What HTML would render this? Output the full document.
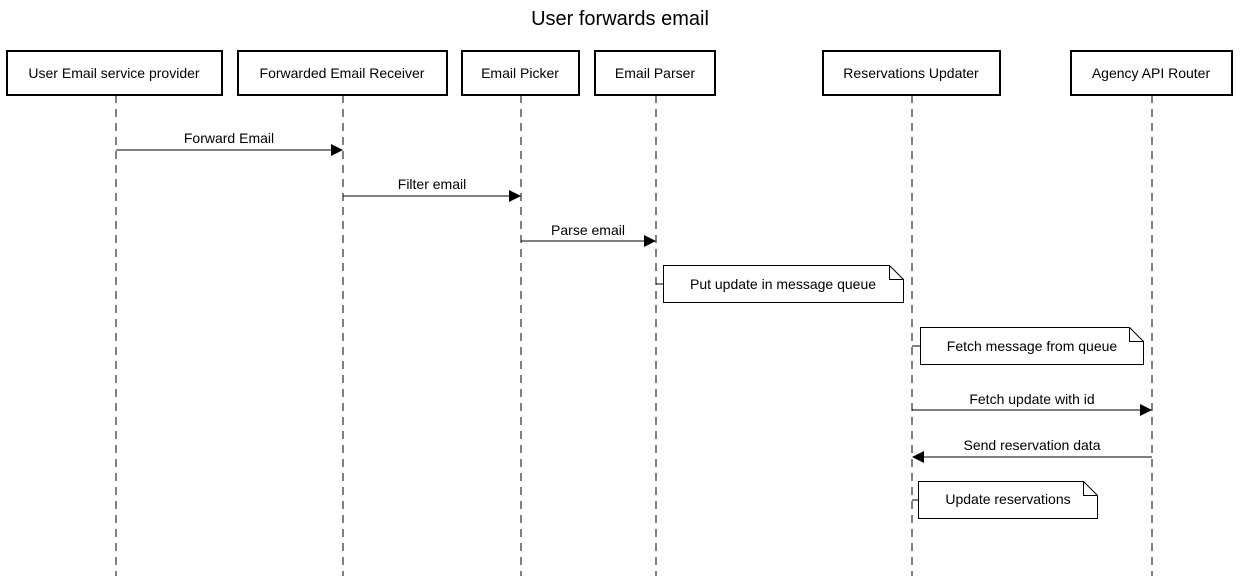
<!DOCTYPE html>
<html><head><style>html,body{margin:0;padding:0;background:#fff}svg{display:block}text{font-family:"Liberation Sans",Arial,sans-serif;fill:#000}</style></head>
<body>
<svg width="1240" height="576" viewBox="0 0 1240 576" xmlns="http://www.w3.org/2000/svg">
<text x="620" y="25" font-size="20" text-anchor="middle">User forwards email</text>
<g stroke="#000" stroke-width="1" stroke-dasharray="8,6" fill="none">
<line x1="116" y1="95" x2="116" y2="576"/>
<line x1="343" y1="95" x2="343" y2="576"/>
<line x1="521" y1="95" x2="521" y2="576"/>
<line x1="656" y1="95" x2="656" y2="576"/>
<line x1="912" y1="95" x2="912" y2="576"/>
<line x1="1152" y1="95" x2="1152" y2="576"/>
</g>
<g stroke="#000" stroke-width="2" fill="#fff">
<rect x="7" y="51" width="215" height="44"/>
<rect x="238" y="51" width="209" height="44"/>
<rect x="462" y="51" width="117" height="44"/>
<rect x="595" y="51" width="120" height="44"/>
<rect x="823" y="51" width="177" height="44"/>
<rect x="1071" y="51" width="161" height="44"/>
</g>
<g font-size="14" text-anchor="middle">
<text x="114" y="78">User Email service provider</text>
<text x="342" y="78">Forwarded Email Receiver</text>
<text x="520" y="78">Email Picker</text>
<text x="655" y="78">Email Parser</text>
<text x="911" y="78">Reservations Updater</text>
<text x="1151" y="78">Agency API Router</text>
</g>
<g stroke="#000" stroke-width="1">
<line x1="116" y1="150" x2="332" y2="150"/>
<line x1="343" y1="196" x2="510" y2="196"/>
<line x1="521" y1="241" x2="645" y2="241"/>
<line x1="912" y1="410" x2="1141" y2="410"/>
<line x1="923" y1="457" x2="1152" y2="457"/>
<line x1="656" y1="284" x2="663" y2="284"/>
<line x1="912" y1="346" x2="920" y2="346"/>
<line x1="912" y1="500" x2="920" y2="500"/>
</g>
<g fill="#000">
<polygon points="343,150 331,144 331,156"/>
<polygon points="521,196 509,190 509,202"/>
<polygon points="656,241 644,235 644,247"/>
<polygon points="1152,410 1140,404 1140,416"/>
<polygon points="912,457 924,451 924,463"/>
</g>
<g font-size="14" text-anchor="middle">
<text x="229" y="143">Forward Email</text>
<text x="432" y="189">Filter email</text>
<text x="588" y="235">Parse email</text>
<text x="1032" y="404">Fetch update with id</text>
<text x="1032" y="450">Send reservation data</text>
</g>
<g stroke="#000" stroke-width="1" fill="#fff">
<path d="M663.5 265.5 H889.5 L903.5 279.5 V302.5 H663.5 Z"/><path d="M889.5 265.5 V279.5 H903.5" fill="none"/>
<path d="M920.5 327.5 H1129.5 L1143.5 341.5 V364.5 H920.5 Z"/><path d="M1129.5 327.5 V341.5 H1143.5" fill="none"/>
<path d="M918.5 481.5 H1083.5 L1097.5 495.5 V518.5 H918.5 Z"/><path d="M1083.5 481.5 V495.5 H1097.5" fill="none"/>
</g>
<g font-size="14" text-anchor="middle">
<text x="783" y="289">Put update in message queue</text>
<text x="1032" y="351">Fetch message from queue</text>
<text x="1008" y="504">Update reservations</text>
</g>
</svg>
</body></html>
